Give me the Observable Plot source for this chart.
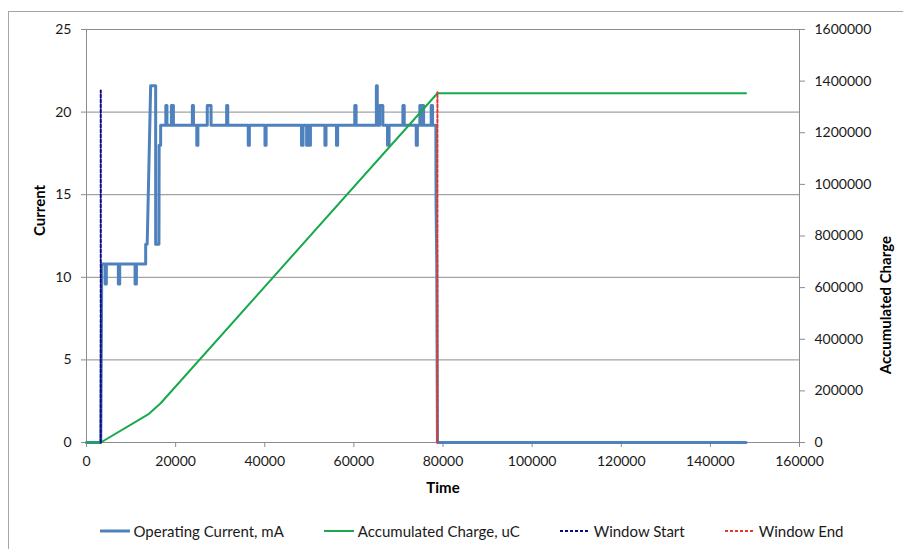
<!DOCTYPE html>
<html>
<head>
<meta charset="utf-8">
<script src="https://cdn.jsdelivr.net/npm/d3@7"></script>
<script src="https://cdn.jsdelivr.net/npm/@observablehq/plot@0.6"></script>
<style>
  html, body { margin: 0; padding: 0; background: #fff; overflow: hidden; }
  #wrap { position: relative; width: 903px; height: 549px; font-family: Lato, "Open Sans", sans-serif; }
  #border { position: absolute; left: 8px; top: 11px; width: 1200px; height: 1200px; border: 1px solid #a6a6a6; pointer-events: none; }
  #chart svg g[aria-label$="tick"] { stroke: #8c8c8c; }
  #legend { position: absolute; left: 40px; top: 522px; width: 863px; display: flex; justify-content: center; font-size: 15px; color: #1a1a1a; }
  .item { display: flex; align-items: center; margin: 0 20px; }
  .item svg { margin-right: 4px; }
</style>
</head>
<body>
<div id="wrap">
  <div id="chart"></div>
  <div id="legend"></div>
  <div id="border"></div>
</div>
<script>
// ---- data ----
const currentTime = [
  0, 3200, 3430,
  4200, 4200, 4450, 4450,
  7150, 7150, 7450, 7450,
  10900, 10900, 11200, 11200,
  13280, 13280, 13620, 14400, 15520, 15520, 16260, 16300, 16640, 16640,
  17800, 17800, 18050, 18050,
  19050, 19050, 19500, 19500,
  23750, 23750, 24000, 24000,
  24750, 24750, 25000, 25000,
  27100, 27100, 27950, 27950,
  31450, 31450, 31700, 31700,
  36300, 36300, 36550, 36550,
  40050, 40050, 40300, 40300,
  48250, 48250, 48600, 48600,
  49400, 49400, 49700, 49700,
  49900, 49900, 50250, 50250,
  53500, 53500, 53750, 53750,
  56100, 56100, 56350, 56350,
  60200, 60200, 60500, 60500,
  65050, 65050, 65250, 65250,
  65800, 65800, 66500, 66500,
  67550, 67550, 67900, 67900,
  71000, 71000, 71300, 71300,
  74000, 74000, 74250, 74250,
  74800, 74800, 75050, 75050,
  75350, 75350, 75650, 75650,
  77350, 77350, 77650, 77650,
  78400, 78450, 78600, 78750, 148000
];
const currentValue = [
  0, 0, 10.8,
  10.8, 9.6, 9.6, 10.8,
  10.8, 9.6, 9.6, 10.8,
  10.8, 9.6, 9.6, 10.8,
  10.8, 12, 12, 21.6, 21.6, 12, 12, 18, 18, 19.2,
  19.2, 20.4, 20.4, 19.2,
  19.2, 20.4, 20.4, 19.2,
  19.2, 20.4, 20.4, 19.2,
  19.2, 18, 18, 19.2,
  19.2, 20.4, 20.4, 19.2,
  19.2, 20.4, 20.4, 19.2,
  19.2, 18, 18, 19.2,
  19.2, 18, 18, 19.2,
  19.2, 18, 18, 19.2,
  19.2, 18, 18, 19.2,
  19.2, 18, 18, 19.2,
  19.2, 18, 18, 19.2,
  19.2, 18, 18, 19.2,
  19.2, 20.4, 20.4, 19.2,
  19.2, 21.6, 21.6, 19.2,
  19.2, 20.4, 20.4, 19.2,
  19.2, 18, 18, 19.2,
  19.2, 20.4, 20.4, 19.2,
  19.2, 18, 18, 19.2,
  19.2, 20.4, 20.4, 19.2,
  19.2, 20.4, 20.4, 19.2,
  19.2, 20.4, 20.4, 19.2,
  19.2, 14.4, 10.8, 0, 0
];
const chargeTime  = [0, 3200, 14020, 16640, 78750, 148000];
const chargeValue = [0, 0, 111000, 152000, 1353000, 1353000];
const windowStartTime = [3200, 3200];
const windowStartValue = [0, 21.3];
const windowEndTime = [78750, 78750];
const windowEndValue = [0, 21.2];

const xTicks = [0, 20000, 40000, 60000, 80000, 100000, 120000, 140000, 160000];
const yTicks = [0, 5, 10, 15, 20, 25];
const chargeTicks = [0, 200000, 400000, 600000, 800000, 1000000, 1200000, 1400000, 1600000];
const CHARGE_PER_MA = 64000; // 1600000 on right axis aligns with 25 on left axis

const seriesNames = ["Operating Current, mA", "Accumulated Charge, uC", "Window Start", "Window End"];
const colors = { current: "#4f81bd", charge: "#17a94c", start: "#0c0c80", end: "#e2382c" };

// ---- build tables ----
const current = currentTime.map((t, i) => ({t, v: currentValue[i]}));
const charge = chargeTime.map((t, i) => ({t, v: chargeValue[i] / CHARGE_PER_MA}));
const wStart = windowStartTime.map((t, i) => ({t, v: windowStartValue[i]}));
const wEnd = windowEndTime.map((t, i) => ({t, v: windowEndValue[i]}));

const grey = "#8c8c8c";
const plot = Plot.plot({
  width: 903,
  height: 505,
  marginLeft: 86,
  marginRight: 104,
  marginTop: 29,
  marginBottom: 63,
  style: { fontFamily: "Lato, 'Open Sans', sans-serif", fontSize: "14px", color: "#1a1a1a", background: "transparent" },
  x: { domain: [0, 160000] },
  y: { domain: [0, 25] },
  marks: [
    Plot.ruleY(yTicks, { stroke: grey, strokeWidth: 1 }),
    Plot.ruleX([0, 160000], { stroke: grey, strokeWidth: 1 }),
    Plot.axisX({ ticks: xTicks, tickSize: 5, tickPadding: 9, tickFormat: d => String(d), label: null }),
    Plot.axisY({ ticks: yTicks, tickSize: 5, tickPadding: 10, tickFormat: d => String(d), label: null }),
    Plot.axisY({ anchor: "right", ticks: chargeTicks.map(c => c / CHARGE_PER_MA), tickSize: 5, tickPadding: 10,
                 tickFormat: d => String(Math.round(d * CHARGE_PER_MA)), label: null }),
    Plot.line(current, { x: "t", y: "v", stroke: colors.current, strokeWidth: 3, strokeLinejoin: "round" }),
    Plot.line(charge, { x: "t", y: "v", stroke: colors.charge, strokeWidth: 2 }),
    Plot.line(wStart, { x: "t", y: "v", stroke: colors.start, strokeWidth: 2, strokeDasharray: "3,2" }),
    Plot.line(wEnd, { x: "t", y: "v", stroke: colors.end, strokeWidth: 2, strokeDasharray: "3,2" }),
    Plot.text(["Current"], { frameAnchor: "left", dx: -46, rotate: -90, fontWeight: "bold", fontSize: 15, fill: "#000" }),
    Plot.text(["Accumulated Charge"], { frameAnchor: "right", dx: 87, rotate: -90, fontWeight: "bold", fontSize: 15, fill: "#000" }),
    Plot.text(["Time"], { frameAnchor: "bottom", dy: 50, fontWeight: "bold", fontSize: 15, fill: "#000" })
  ]
});
document.getElementById("chart").appendChild(plot);

// ---- legend ----
const legend = document.getElementById("legend");
const legendStyles = [
  { color: colors.current, width: 3, dash: null },
  { color: colors.charge, width: 2, dash: null },
  { color: colors.start, width: 2, dash: "3,2" },
  { color: colors.end, width: 2, dash: "3,2" }
];
seriesNames.forEach((name, i) => {
  const s = legendStyles[i];
  const item = document.createElement("div");
  item.className = "item";
  item.innerHTML = `<svg width="30" height="10"><line x1="0" x2="30" y1="5" y2="5" stroke="${s.color}" stroke-width="${s.width}" ${s.dash ? `stroke-dasharray="${s.dash}"` : ""}/></svg><span>${name}</span>`;
  legend.appendChild(item);
});
</script>
</body>
</html>
